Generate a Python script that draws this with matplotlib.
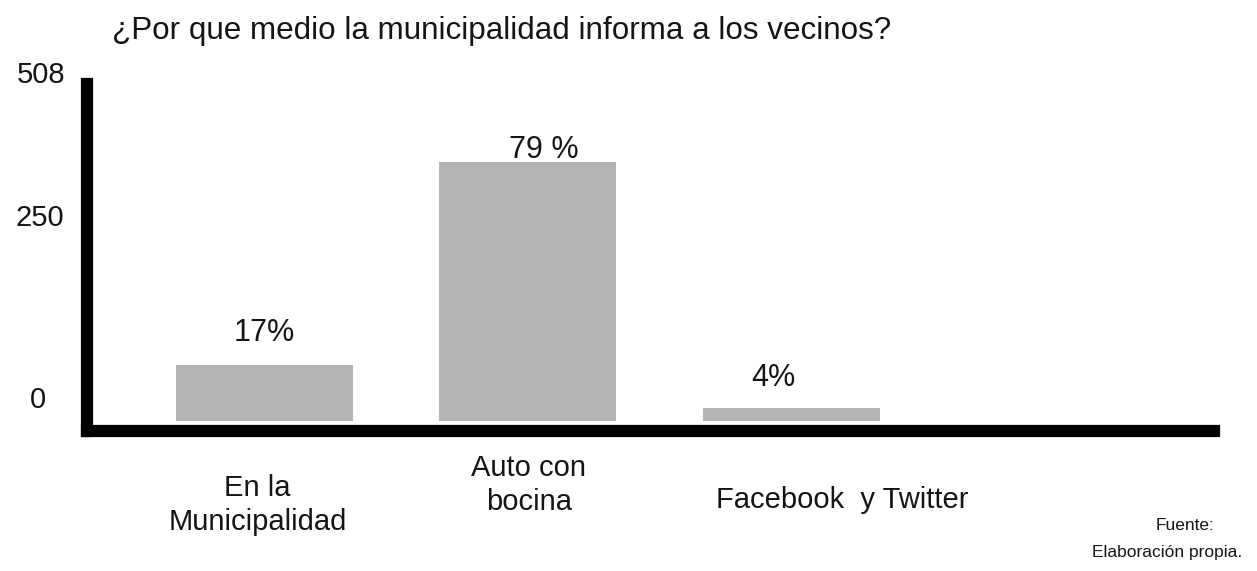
import matplotlib
matplotlib.use("Agg")
import matplotlib.pyplot as plt

plt.rcParams['font.family'] = ['Liberation Sans', 'DejaVu Sans']

# Survey results: share of respondents by information channel
categories = ["En la\nMunicipalidad", "Auto con\nbocina", "Facebook  y Twitter"]
percentages = [17, 79, 4]
value_labels = ["17%", "79 %", "4%"]
ytick_labels = ["0", "250", "508"]
title = "¿Por que medio la municipalidad informa a los vecinos?"
source_lines = ["Fuente:", "Elaboración propia."]

W, H, DPI = 1257, 571, 100
fig = plt.figure(figsize=(W / DPI, H / DPI), dpi=DPI)
fig.patch.set_facecolor("white")

def px(x, y):
    return x / W, 1 - y / H

left, top = px(86.5, 84)
right, bottom = px(1214, 430.5)
ax = fig.add_axes([left, bottom, right - left, top - bottom])

xpos = list(range(len(categories)))
ax.bar(xpos, percentages, width=0.672, color="#b4b4b4", edgecolor="none", zorder=2)

ax.set_xlim(-0.675, 3.604)
ax.set_ylim(-2.9, 102.8)

for side in ("top", "right"):
    ax.spines[side].set_visible(False)
for side in ("left", "bottom"):
    ax.spines[side].set_linewidth(8.8)
    ax.spines[side].set_color("black")
    ax.spines[side].set_capstyle("projecting")
    ax.spines[side].set_zorder(3)

ax.set_xticks([])
ax.set_yticks([])

ink = "#151515"

# value labels above bars
label_dx = [0, 16, -18]
label_dy = [32, 12, 30]
for x, v, lab, dx, dy in zip(xpos, percentages, value_labels, label_dx, label_dy):
    ax.annotate(lab, (x, v), xytext=(dx * 0.72, dy * 0.72), textcoords="offset points",
                ha="center", va="center", fontsize=22, color=ink)

# category labels under the axis
cat_dx = [-7, 1, 51]
cat_y = [505, 485, 500]
for x, name, dx, yy in zip(xpos, categories, cat_dx, cat_y):
    xd = ax.transData.transform((x, 0))[0] + dx
    fig.text(xd / W, 1 - yy / H, name, ha="center", va="center",
             fontsize=21, linespacing=1.27, color=ink)

# y-axis labels
ylab_pos = [(38, 400), (40, 218), (41, 75)]
for (xx, yy), lab in zip(ylab_pos, ytick_labels):
    fig.text(*px(xx, yy), lab, ha="center", va="center", fontsize=21, color=ink)

fig.text(*px(112, 31), title, ha="left", va="center", fontsize=22.6, color=ink)

fig.text(*px(1185, 526), source_lines[0], ha="center", va="center", fontsize=12.5, color=ink)
fig.text(*px(1167, 553), source_lines[1], ha="center", va="center", fontsize=12.5, color=ink)

fig.savefig("out.png", dpi=DPI)
